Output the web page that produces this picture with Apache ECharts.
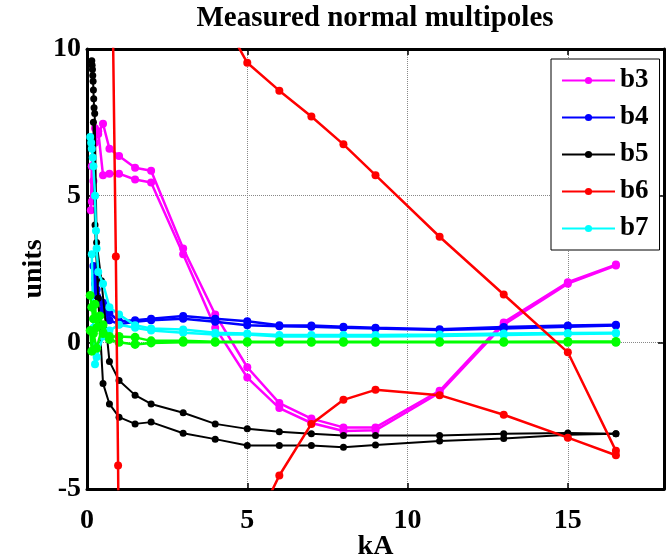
<!DOCTYPE html>
<html><head><meta charset="utf-8">
<script src="https://cdn.jsdelivr.net/npm/echarts@6/dist/echarts.min.js"></script>
<style>html,body{margin:0;padding:0;background:#fff}#c{width:667px;height:558px}</style>
</head><body><div id="c"></div>
<script>
const titleText = 'Measured normal multipoles';
const xTicks = [0, 5, 10, 15];
const yTicks = [-5, 0, 5, 10];
const legendNames = ['b3', 'b4', 'b5', 'b6', 'b7'];

const b3_up = [[0.12,4.5],[0.15,6.0],[0.2,7.0],[0.25,7.3],[0.35,7.1],[0.5,7.45],[0.7,6.6],[1,6.35],[1.5,5.95],[2,5.85],[3,3.2],[4,0.95],[5,-0.85],[6,-2.07],[7,-2.6],[8,-2.9],[9,-2.9],[11,-1.65],[13,0.68],[15,2.05],[16.5,2.65]];
const b3_down = [[16.5,2.62],[15,2.0],[13,0.6],[11,-1.72],[9,-3.0],[8,-3.02],[7,-2.75],[6,-2.24],[5,-1.2],[4,0.5],[3,3.0],[2,5.45],[1.5,5.55],[1,5.75],[0.7,5.75],[0.5,5.7],[0.35,7.2],[0.25,6.8],[0.2,5.5],[0.15,4.8]];

const b4_up = [[0.2,2.6],[0.25,2.2],[0.3,1.8],[0.5,1.35],[0.7,1.0],[1,0.72],[1.5,0.75],[2,0.8],[3,0.9],[4,0.8],[5,0.72],[6,0.58],[7,0.57],[8,0.53],[9,0.5],[11,0.45],[13,0.52],[15,0.57],[16.5,0.6]];
const b4_down = [[16.5,0.57],[15,0.53],[13,0.47],[11,0.42],[9,0.47],[8,0.5],[7,0.53],[6,0.55],[5,0.58],[4,0.7],[3,0.8],[2,0.75],[1.5,0.7],[1,0.62],[0.7,0.75],[0.5,1.1],[0.3,1.6],[0.25,2.0]];

const b5_up = [[0.15,9.6],[0.16,9.45],[0.17,9.3],[0.18,9.1],[0.19,8.9],[0.2,8.6],[0.21,8.3],[0.22,8.0],[0.24,7.8],[0.3,3.4],[0.45,2.1],[0.7,-0.65],[1,-1.3],[1.5,-1.8],[2,-2.1],[3,-2.4],[4,-2.78],[5,-2.95],[6,-3.05],[7,-3.12],[8,-3.18],[9,-3.18],[11,-3.18],[13,-3.12],[15,-3.09],[16.5,-3.12]];
const b5_down = [[16.5,-3.12],[15,-3.15],[13,-3.28],[11,-3.36],[9,-3.5],[8,-3.58],[7,-3.52],[6,-3.52],[5,-3.52],[4,-3.3],[3,-3.1],[2,-2.72],[1.5,-2.78],[1,-2.55],[0.7,-2.1],[0.5,-1.4],[0.35,1.5],[0.25,4.0],[0.2,7.5]];

const b6_up = [[0.7,20],[0.9,2.93],[0.97,-4.2],[1.0,-9],[1.5,-12],[2,-11.5],[3,-10],[4,-8.5],[5,-6.8],[6,-4.54],[7,-2.78],[8,-1.96],[9,-1.62],[11,-1.8],[13,-2.47],[15,-3.25],[16.5,-3.85]];
const b6_down = [[16.5,-3.7],[15,-0.34],[13,1.63],[11,3.6],[9,5.7],[8,6.75],[7,7.7],[6,8.58],[5,9.53],[4,11.5],[3,14],[2,18]];

const b7_up = [[0.1,7.0],[0.13,6.8],[0.15,6.6],[0.18,6.3],[0.2,6.0],[0.25,5.0],[0.28,3.8],[0.3,3.2],[0.35,2.4],[0.5,2.0],[0.7,1.2],[1,0.95],[1.5,0.58],[2,0.47],[3,0.44],[4,0.33],[5,0.3],[6,0.25],[7,0.25],[8,0.25],[9,0.25],[11,0.27],[13,0.3],[15,0.32],[16.5,0.33]];
const b7_down = [[16.5,0.3],[15,0.28],[13,0.25],[11,0.22],[9,0.2],[8,0.2],[7,0.2],[6,0.2],[5,0.27],[4,0.27],[3,0.33],[2,0.4],[1.5,0.5],[1,0.6],[0.7,0.4],[0.5,0.2],[0.3,-0.5],[0.25,-0.75],[0.2,0.5],[0.15,3.0]];

const b8_up = [[0.1,1.6],[0.15,1.2],[0.2,0.8],[0.25,1.3],[0.3,0.5],[0.4,0.9],[0.5,0.3],[0.7,0.2],[1,0.2],[1.5,0.17],[2,0.05],[3,0.05],[4,0.02],[5,0.02],[6,0.02],[7,0.02],[8,0.02],[9,0.02],[11,0.02],[13,0.02],[15,0.03],[16.5,0.03]];
const b8_down = [[16.5,0.0],[15,0.0],[13,0.0],[11,0.0],[9,0.0],[8,0.0],[7,0.0],[6,0.0],[5,0.0],[4,0.0],[3,0.0],[2,-0.02],[1.5,-0.07],[1,0.0],[0.7,0.1],[0.5,0.6],[0.3,-0.2],[0.2,0.3],[0.15,-0.3],[0.1,0.4]];

const FONT = '"Liberation Serif", "Times New Roman", serif';

function mk(name, data, color, width, size, z) {
  return {
    name: name, type: 'line', data: data, z: z,
    symbol: 'circle', symbolSize: size, showSymbol: true, showAllSymbol: true,
    clip: true, color: color,
    lineStyle: {color: color, width: width},
    itemStyle: {color: color},
    emphasis: {disabled: true}
  };
}

const chart = echarts.init(document.getElementById('c'), null, {renderer: 'canvas'});
const axisLineStyle = {show: true, onZero: false, lineStyle: {color: '#000', width: 3}};
const tickStyle = {show: true, inside: true, length: 6, lineStyle: {color: '#000', width: 1.5}};
const labelStyle = {color: '#000', fontFamily: FONT, fontWeight: 'bold', fontSize: 28};

chart.setOption({
  animation: false,
  backgroundColor: '#fff',
  graphic: [{
    type: 'text', x: 375, y: 19, z: 100,
    style: {text: titleText, fill: '#000', font: 'bold 29px ' + FONT, align: 'center', verticalAlign: 'middle'}
  }],
  grid: {left: 87, right: 3, top: 49, bottom: 69, containLabel: false, outerBoundsMode: 'none'},
  legend: {
    data: legendNames, orient: 'vertical', left: 551, top: 59,
    padding: [8, 11, 8, 10], itemGap: 10, itemWidth: 53, itemHeight: 9,
    backgroundColor: '#fff', borderColor: '#000', borderWidth: 1,
    textStyle: {color: '#000', fontFamily: FONT, fontWeight: 'bold', fontSize: 27, lineHeight: 27},
    selectedMode: false
  },
  xAxis: [{
    type: 'value', min: 0, max: 18, interval: 5, position: 'bottom',
    name: 'kA', nameLocation: 'middle', nameGap: 44, nameMoveOverlap: false,
    nameTextStyle: {color: '#000', fontFamily: FONT, fontWeight: 'bold', fontSize: 28},
    axisLine: axisLineStyle, axisTick: tickStyle,
    axisLabel: Object.assign({margin: 18, formatter: v => xTicks.indexOf(v) >= 0 ? String(v) : ''}, labelStyle),
    splitLine: {show: true, lineStyle: {color: '#888', width: 1, type: 'dotted'}}
  }, {
    type: 'value', min: 0, max: 18, interval: 5, position: 'top',
    axisLine: axisLineStyle, axisTick: tickStyle, axisLabel: {show: false}, splitLine: {show: false}
  }],
  yAxis: [{
    type: 'value', min: -5, max: 10, interval: 5, position: 'left',
    name: 'units', nameLocation: 'middle', nameGap: 39, nameRotate: 90, nameMoveOverlap: false,
    nameTextStyle: {color: '#000', fontFamily: FONT, fontWeight: 'bold', fontSize: 28},
    axisLine: axisLineStyle, axisTick: tickStyle,
    axisLabel: Object.assign({margin: 6, formatter: v => yTicks.indexOf(v) >= 0 ? String(v) : ''}, labelStyle),
    splitLine: {show: true, lineStyle: {color: '#888', width: 1, type: 'dotted'}}
  }, {
    type: 'value', min: -5, max: 10, interval: 5, position: 'right',
    axisLine: axisLineStyle, axisTick: tickStyle, axisLabel: {show: false}, splitLine: {show: false}
  }],
  series: [
    mk('b3', b3_up, '#ff00ff', 2.5, 8, 3),
    mk('b3', b3_down, '#ff00ff', 2.5, 8, 3),
    mk('b4', b4_up, '#0000ff', 2.5, 8, 4),
    mk('b4', b4_down, '#0000ff', 2.5, 8, 4),
    mk('b5', b5_up, '#000000', 2, 7, 5),
    mk('b5', b5_down, '#000000', 2, 7, 5),
    mk('b7', b7_up, '#00ffff', 2.5, 8, 6),
    mk('b7', b7_down, '#00ffff', 2.5, 8, 6),
    mk('b8', b8_up, '#00ff00', 2.5, 9, 7),
    mk('b8', b8_down, '#00ff00', 2.5, 9, 7),
    mk('b6', b6_up, '#ff0000', 2.5, 8, 8),
    mk('b6', b6_down, '#ff0000', 2.5, 8, 8)
  ]
});
</script></body></html>
